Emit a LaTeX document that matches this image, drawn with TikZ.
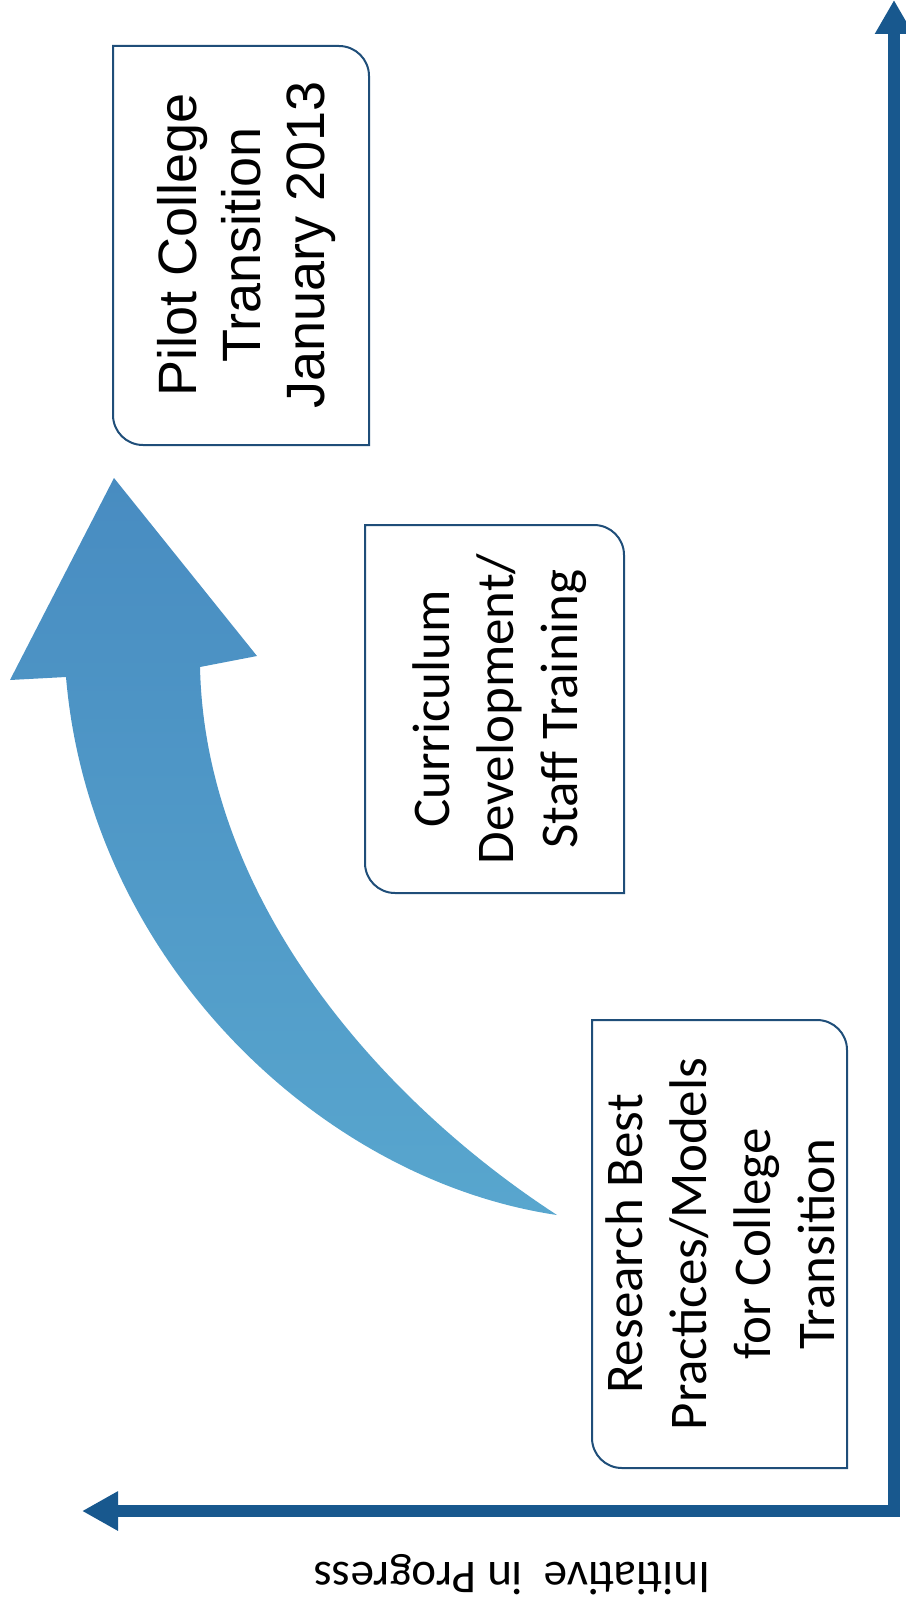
\documentclass[tikz,border=0pt]{standalone}
\usepackage{fontspec}
\setmainfont{Carlito}
\newfontfamily\arialfont{Liberation Sans}
\usetikzlibrary{arrows.meta}

\definecolor{axisblue}{RGB}{24,88,142}
\definecolor{frameblue}{RGB}{31,78,121}
\definecolor{arrowtop}{RGB}{72,140,193}
\definecolor{arrowbot}{RGB}{88,166,206}

\tikzset{
  stageframe/.style={draw=frameblue, line width=2bp},
  stagetext/.style={rotate=90, align=center, inner sep=0pt,
    font=\fontsize{53bp}{64bp}\selectfont},
  axisline/.style={draw=axisblue, line width=12bp}
}

% box with two rounded corners (top right, bottom left), y runs down
\newcommand{\stagebox}[4]{%
  \draw[stageframe] (#1,#2) -- ({#3-30},#2)
    .. controls ({#3-13.4},#2) and (#3,{#2+13.4}) .. (#3,{#2+30})
    -- (#3,#4) -- ({#1+30},#4)
    .. controls ({#1+13.4},#4) and (#1,{#4-13.4}) .. (#1,{#4-30}) -- cycle;}

\begin{document}
\begin{tikzpicture}[x=1bp, y=-1bp]
\useasboundingbox (0,0) rectangle (905,1602);

% axes
\draw[axisline, {Triangle[length=34bp,width=36bp]}-{Triangle[length=36bp,width=37bp]}]
  (894,0) -- (894,1511) -- (82,1511);
\node[rotate=180, inner sep=0pt, font=\fontsize{47bp}{56bp}\selectfont] (axislabel)
  at (512,1575) {Initiative\ \ in Progress};

% curved arrow
\shade[top color=arrowtop, bottom color=arrowbot]
  (114,478) -- (257,656) -- (200,667)
  .. controls (205,900) and (380,1100) .. (557,1215)
  .. controls (320,1180) and (90,960) .. (66,677)
  -- (10,680) -- cycle;

% stages
\stagebox{113}{46}{369}{445}
\node[stagetext, font=\arialfont\fontsize{54bp}{64bp}\selectfont] (pilot)
  at (247,245) {Pilot College\\Transition\\January 2013};

\stagebox{365}{525}{624}{893}
\node[stagetext] (curric) at (500,709) {Curriculum\\Development/\\Staff Training};

\stagebox{592}{1020}{847}{1468}
\node[stagetext] (research) at (720,1244) {Research Best\\Practices/Models\\for College\\Transition};

\end{tikzpicture}
\end{document}
